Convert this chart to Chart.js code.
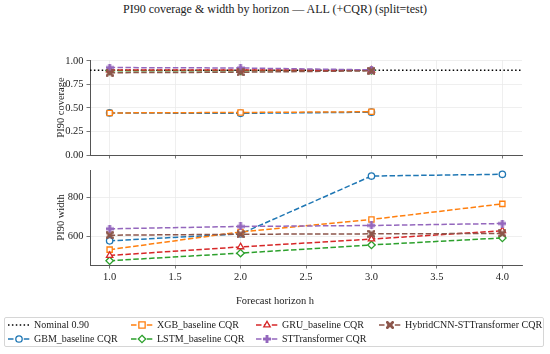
<!DOCTYPE html>
<html><head><meta charset="utf-8">
<script src="https://cdn.jsdelivr.net/npm/chart.js@4.4.1/dist/chart.umd.min.js"></script>
<style>
html,body{margin:0;padding:0;background:#fff;}
body{width:550px;height:354px;position:relative;overflow:hidden;font-family:"Liberation Serif","DejaVu Serif",serif;color:#222;}
#title{position:absolute;left:0;width:550px;top:2px;text-align:center;font-size:12px;line-height:15px;}
#c1{position:absolute;left:0;top:0;}
#c2{position:absolute;left:0;top:160px;}
#xlabel{position:absolute;left:0;width:550px;top:294px;text-align:center;font-size:10.5px;line-height:14px;}
#legend{position:absolute;left:4px;top:317px;width:540px;height:30px;border:1px solid #d6d6d6;border-radius:2px;box-sizing:border-box;}
.item{position:absolute;height:14px;font-size:10px;line-height:14px;white-space:nowrap;}
.item canvas{position:absolute;left:0;top:1px;}
.item span{position:absolute;left:26px;top:0;}
</style></head>
<body>
<div id="title">PI90 coverage &amp; width by horizon — ALL (+CQR) (split=test)</div>
<canvas id="c1" width="550" height="165"></canvas>
<canvas id="c2" width="550" height="150"></canvas>
<div id="xlabel">Forecast horizon h</div>
<div id="legend"></div>
<script>
// ---------- data ----------
const horizonsCoverage = [1, 2, 3];
const horizonsWidth = [1, 2, 3, 4];
const xTickValues = [1.0, 1.5, 2.0, 2.5, 3.0, 3.5, 4.0];
const coverageTicks = [0.00, 0.25, 0.50, 0.75, 1.00];
const widthTicks = [600, 800];
const NOMINAL = 0.90;

const gbmCoverage    = [0.447, 0.443, 0.455];
const xgbCoverage    = [0.447, 0.452, 0.460];
const lstmCoverage   = [0.895, 0.895, 0.900];
const gruCoverage    = [0.905, 0.905, 0.900];
const sttCoverage    = [0.930, 0.925, 0.905];
const hybridCoverage = [0.875, 0.880, 0.895];

const gbmWidth    = [576, 612, 909, 918];
const xgbWidth    = [531, 622, 686, 766];
const lstmWidth   = [474, 513, 555, 591];
const gruWidth    = [501, 545, 585, 628];
const sttWidth    = [638, 650, 655, 665];
const hybridWidth = [605, 610, 612, 614];

const X_MIN = 0.85, X_MAX = 4.15;
const COV_MIN = 0, COV_MAX = 1.01;
const WID_MIN = 452, WID_MAX = 940;

// ---------- styling ----------
const FAMILY = "'Liberation Serif', 'DejaVu Serif', serif";
Chart.defaults.font.family = FAMILY;
Chart.defaults.color = '#222';

function makeMarker(kind, color, size) {
  const c = document.createElement('canvas');
  c.width = c.height = size;
  const g = c.getContext('2d');
  g.fillStyle = color;
  const s = size;
  if (kind === 'P') {
    const t = s * 0.36;
    g.fillRect((s - t) / 2, 0, t, s);
    g.fillRect(0, (s - t) / 2, s, t);
  } else {
    const t = s * 0.34, L = s * 0.64;
    g.translate(s / 2, s / 2);
    g.rotate(Math.PI / 4);
    g.fillRect(-t / 2, -L, t, 2 * L);
    g.fillRect(-L, -t / 2, 2 * L, t);
  }
  return c;
}

const C = {blue:'#1f77b4', orange:'#ff7f0e', green:'#2ca02c', red:'#d62728', purple:'#9467bd', brown:'#8c564b'};
const series = [
  {name:'GBM_baseline CQR', color:C.blue, style:'circle', cov:gbmCoverage, wid:gbmWidth, radius:3.2},
  {name:'XGB_baseline CQR', color:C.orange, style:'rect', cov:xgbCoverage, wid:xgbWidth, radius:3.7},
  {name:'LSTM_baseline CQR', color:C.green, style:'rectRot', cov:lstmCoverage, wid:lstmWidth, radius:3.7},
  {name:'GRU_baseline CQR', color:C.red, style:'triangle', cov:gruCoverage, wid:gruWidth, radius:3.7},
  {name:'STTransformer CQR', color:C.purple, style:makeMarker('P', C.purple, 8), cov:sttCoverage, wid:sttWidth, radius:4},
  {name:'HybridCNN-STTransformer CQR', color:C.brown, style:makeMarker('X', C.brown, 8), cov:hybridCoverage, wid:hybridWidth, radius:4}
];
const DASH = [5.5, 2.4];
const DOT = [1.5, 2.4];

function lineDs(s, xs, ys, idx) {
  return {
    label: s.name,
    data: xs.map((x, i) => ({x: x, y: ys[i]})),
    borderColor: s.color, backgroundColor: '#fff',
    borderWidth: 1.5, borderDash: DASH,
    pointStyle: s.style, pointRadius: s.radius, pointBorderWidth: 1.3,
    pointBackgroundColor: (typeof s.style === 'string') ? '#fff' : s.color,
    pointBorderColor: s.color,
    fill: false, tension: 0, order: 20 - idx
  };
}

const grid = {color:'#ebebeb', lineWidth:0.8, tickColor:'#555', tickLength:3.5, drawTicks:true};
const border = {display:true, color:'#555', width:1};
const tickFont = {family: FAMILY, size:10.5};
const labelFont = {family: FAMILY, size:10.5};

function setTicks(vals) { return (sc) => { sc.ticks = vals.map(v => ({value: v})); }; }

// ---------- coverage chart ----------
const covDatasets = [{
  label: 'Nominal 0.90',
  data: [{x: X_MIN, y: NOMINAL}, {x: X_MAX, y: NOMINAL}],
  borderColor: '#000', borderWidth: 1.5, borderDash: DOT, pointRadius: 0, fill: false, order: 30
}].concat(series.map((s, i) => lineDs(s, horizonsCoverage, s.cov, i)));

new Chart(document.getElementById('c1'), {
  type: 'line',
  data: {datasets: covDatasets},
  options: {
    responsive: false, animation: false, devicePixelRatio: 1,
    layout: {padding: {left: 0, right: 28, top: 60, bottom: 0}},
    plugins: {legend: {display: false}, tooltip: {enabled: false}, title: {display: false}},
    scales: {
      x: {type: 'linear', min: X_MIN, max: X_MAX, grid: grid, border: border,
          ticks: {display: false}, afterBuildTicks: setTicks(xTickValues),
          afterFit: (sc) => { sc.height = 10; }},
      y: {type: 'linear', min: COV_MIN, max: COV_MAX, grid: grid, border: border,
          ticks: {font: tickFont, color: '#222', padding: 3, callback: (v) => Number(v).toFixed(2)},
          afterBuildTicks: setTicks(coverageTicks),
          afterFit: (sc) => { sc.width = 90; },
          title: {display: true, text: 'PI90 coverage', font: labelFont, color: '#222', padding: {top: 55, bottom: 0}}}
    }
  }
});

// ---------- width chart ----------
new Chart(document.getElementById('c2'), {
  type: 'line',
  data: {datasets: series.map((s, i) => lineDs(s, horizonsWidth, s.wid, i))},
  options: {
    responsive: false, animation: false, devicePixelRatio: 1,
    layout: {padding: {left: 0, right: 28, top: 10, bottom: 0}},
    plugins: {legend: {display: false}, tooltip: {enabled: false}},
    scales: {
      x: {type: 'linear', min: X_MIN, max: X_MAX, grid: grid, border: border,
          ticks: {font: tickFont, color: '#222', padding: 2, maxRotation: 0, callback: (v) => Number(v).toFixed(1)},
          afterBuildTicks: setTicks(xTickValues),
          afterFit: (sc) => { sc.height = 45; }},
      y: {type: 'linear', min: WID_MIN, max: WID_MAX, grid: grid, border: border,
          ticks: {font: tickFont, color: '#222', padding: 3, callback: (v) => String(v)},
          afterBuildTicks: setTicks(widthTicks),
          afterFit: (sc) => { sc.width = 90; },
          title: {display: true, text: 'PI90 width', font: labelFont, color: '#222', padding: {top: 55, bottom: 0}}}
    }
  }
});

// ---------- legend ----------
function drawMarker(g, style, color, x, y, r) {
  g.setLineDash([]);
  if (typeof style !== 'string') { g.drawImage(style, x - style.width / 2, y - style.height / 2); return; }
  g.fillStyle = '#fff'; g.strokeStyle = color; g.lineWidth = 1.3;
  g.beginPath();
  if (style === 'circle') g.arc(x, y, r, 0, Math.PI * 2);
  else if (style === 'rect') { const h = r * 0.85; g.rect(x - h, y - h, 2 * h, 2 * h); }
  else if (style === 'rectRot') { g.moveTo(x, y - r); g.lineTo(x + r, y); g.lineTo(x, y + r); g.lineTo(x - r, y); g.closePath(); }
  else if (style === 'triangle') { g.moveTo(x, y - r); g.lineTo(x + r * 0.87, y + r * 0.5); g.lineTo(x - r * 0.87, y + r * 0.5); g.closePath(); }
  g.fill(); g.stroke();
}
const legendEntries = [
  {name:'Nominal 0.90', color:'#000', dash:DOT, style:null},
  {name:series[0].name, color:series[0].color, dash:DASH, style:series[0].style, r:series[0].radius},
  {name:series[1].name, color:series[1].color, dash:DASH, style:series[1].style, r:series[1].radius},
  {name:series[2].name, color:series[2].color, dash:DASH, style:series[2].style, r:series[2].radius},
  {name:series[3].name, color:series[3].color, dash:DASH, style:series[3].style, r:series[3].radius},
  {name:series[4].name, color:series[4].color, dash:DASH, style:series[4].style, r:series[4].radius},
  {name:series[5].name, color:series[5].color, dash:DASH, style:series[5].style, r:series[5].radius}
];
const colX = [3, 126, 251, 374];
const rowY = [0, 14];
const legend = document.getElementById('legend');
legendEntries.forEach((e, i) => {
  const col = Math.floor(i / 2), row = i % 2;
  const div = document.createElement('div');
  div.className = 'item';
  div.style.left = colX[col] + 'px';
  div.style.top = rowY[row] + 'px';
  const cv = document.createElement('canvas');
  cv.width = 22; cv.height = 12;
  const g = cv.getContext('2d');
  g.strokeStyle = e.color; g.lineWidth = 1.5; g.setLineDash(e.dash);
  g.beginPath(); g.moveTo(0, 6); g.lineTo(22, 6); g.stroke();
  if (e.style) drawMarker(g, e.style, e.color, 11, 6, e.r);
  const sp = document.createElement('span');
  sp.textContent = e.name;
  div.appendChild(cv); div.appendChild(sp);
  legend.appendChild(div);
});
</script>
</body></html>
